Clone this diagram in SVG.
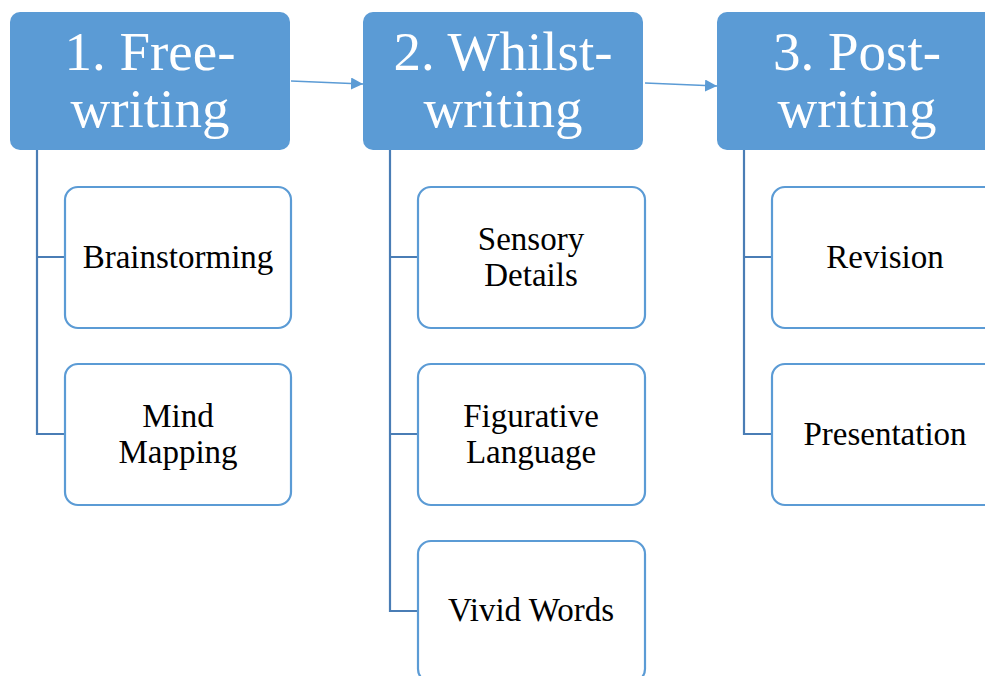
<svg xmlns="http://www.w3.org/2000/svg" width="985" height="676" viewBox="0 0 985 676">
<style>
.hdr{fill:#5b9bd5;}
.ht{font-family:'Liberation Serif','Times New Roman',Times,'DejaVu Serif',serif;font-size:55px;fill:#ffffff;text-anchor:middle;}
.box{fill:#ffffff;stroke:#5b9bd5;stroke-width:2.2;}
.ct{font-family:'Liberation Serif','Times New Roman',Times,'DejaVu Serif',serif;font-size:33px;fill:#000000;text-anchor:middle;}
.tree{fill:none;stroke:#4a7db5;stroke-width:2.2;}
.arr{fill:none;stroke:#5b9bd5;stroke-width:1.5;marker-end:url(#ah);}
</style>
<defs>
<marker id="ah" markerUnits="userSpaceOnUse" markerWidth="12" markerHeight="12" refX="12" refY="6" orient="auto">
<path d="M0,0 L12,6 L0,12 Z" fill="#5b9bd5"/>
</marker>
</defs>
<rect width="985" height="676" fill="#ffffff"/>
<g id="connectors">
<path class="tree" d="M37,150 V434 H65 M37,257 H65"/>
<path class="tree" d="M390,150 V611 H418 M390,257 H418 M390,434 H418"/>
<path class="tree" d="M744,150 V434 H772 M744,257 H772"/>
<path class="arr" d="M291,81 L363,84"/>
<path class="arr" d="M645,83 L717,86"/>
</g>
<g id="h1"><rect class="hdr" x="10" y="12" width="280" height="138" rx="10"/><text class="ht" x="150" y="70" font-family="Liberation Serif">1. Free-</text><text class="ht" x="150" y="127" font-family="Liberation Serif">writing</text></g>
<g id="h2"><rect class="hdr" x="363" y="12" width="280" height="138" rx="10"/><text class="ht" x="503" y="70">2. Whilst-</text><text class="ht" x="503" y="127">writing</text></g>
<g id="h3"><rect class="hdr" x="717" y="12" width="280" height="138" rx="10"/><text class="ht" x="857" y="70">3. Post-</text><text class="ht" x="857" y="127">writing</text></g>
<g id="c1a"><rect class="box" x="65" y="187" width="226" height="141" rx="13"/><text class="ct" x="178" y="268">Brainstorming</text></g>
<g id="c1b"><rect class="box" x="65" y="364" width="226" height="141" rx="13"/><text class="ct" x="178" y="427">Mind</text><text class="ct" x="178" y="463">Mapping</text></g>
<g id="c2a"><rect class="box" x="418" y="187" width="227" height="141" rx="13"/><text class="ct" x="531" y="250">Sensory</text><text class="ct" x="531" y="286">Details</text></g>
<g id="c2b"><rect class="box" x="418" y="364" width="227" height="141" rx="13"/><text class="ct" x="531" y="427">Figurative</text><text class="ct" x="531" y="463">Language</text></g>
<g id="c2c"><rect class="box" x="418" y="541" width="227" height="141" rx="13"/><text class="ct" x="531" y="621">Vivid Words</text></g>
<g id="c3a"><rect class="box" x="772" y="187" width="227" height="141" rx="13"/><text class="ct" x="885" y="268">Revision</text></g>
<g id="c3b"><rect class="box" x="772" y="364" width="227" height="141" rx="13"/><text class="ct" x="885" y="445">Presentation</text></g>
</svg>
